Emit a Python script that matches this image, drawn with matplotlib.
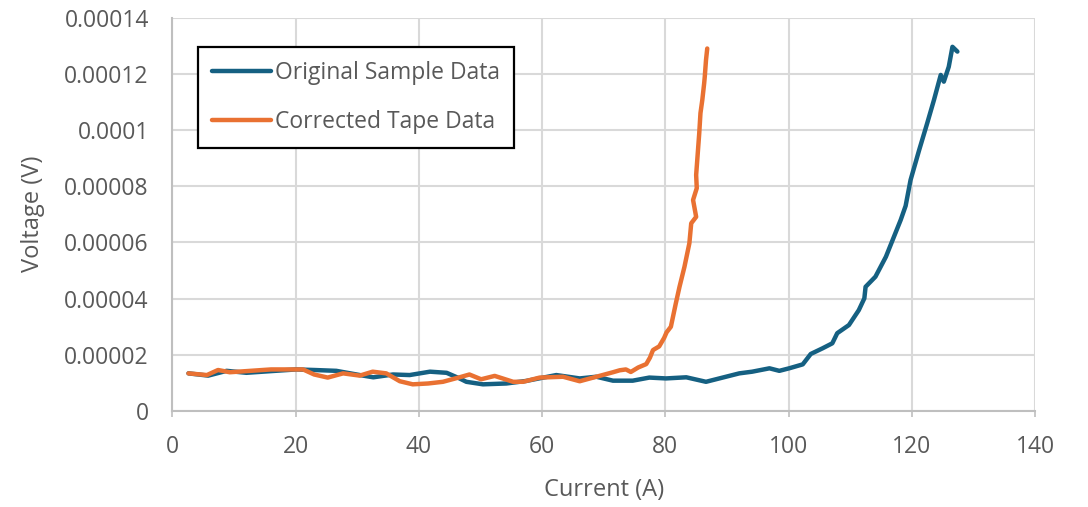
import matplotlib
matplotlib.use("Agg")
import matplotlib.pyplot as plt

plt.rcParams["font.family"] = ["Open Sans", "DejaVu Sans"]

# Original sample: current (A) vs voltage (V)
orig_current = [2.6, 5.8, 8.8, 12, 16, 20.1, 23, 26.6, 30.4, 32.6, 35.8, 38.5, 41.8,
                44.5, 46.6, 47.7, 50.4, 54.2, 57.4, 62.3, 66.1, 68.8, 71.5, 74.7, 77.4,
                80.1, 83.4, 86.6, 92, 94.1, 96.9, 98.5, 100.1, 102.3, 103.6, 105.5,
                107.1, 107.9, 109.8, 111.4, 112.3, 112.5, 114.1, 115.8, 117.1, 118.2,
                119, 119.8, 121.2, 122.5, 123.6, 124.7, 125.2, 126, 126.6, 127.4]
orig_voltage = [1.34e-5, 1.26e-5, 1.43e-5, 1.36e-5, 1.42e-5, 1.48e-5, 1.46e-5, 1.43e-5,
                1.28e-5, 1.20e-5, 1.30e-5, 1.28e-5, 1.40e-5, 1.36e-5, 1.16e-5, 1.04e-5,
                0.95e-5, 0.98e-5, 1.07e-5, 1.28e-5, 1.16e-5, 1.22e-5, 1.08e-5, 1.08e-5,
                1.19e-5, 1.16e-5, 1.20e-5, 1.04e-5, 1.34e-5, 1.40e-5, 1.52e-5, 1.43e-5,
                1.52e-5, 1.66e-5, 2.03e-5, 2.23e-5, 2.41e-5, 2.77e-5, 3.06e-5, 3.59e-5,
                4.01e-5, 4.42e-5, 4.78e-5, 5.49e-5, 6.20e-5, 6.80e-5, 7.30e-5, 8.22e-5,
                9.29e-5, 10.24e-5, 11.07e-5, 11.96e-5, 11.72e-5, 12.25e-5, 12.96e-5,
                12.79e-5]

# Corrected tape: current (A) vs voltage (V)
tape_current = [2.6, 5.6, 7.4, 9.3, 12, 16, 20.1, 21.2, 23, 25.2, 27.7, 30.4, 32.5,
                34.7, 36.9, 39, 41.5, 43.9, 46.6, 48.2, 50.1, 52.3, 55.3, 56.9, 59.6,
                63.4, 66.1, 68.8, 71.5, 72.6, 73.6, 74.4, 75.6, 76.9, 77.5, 78.0, 79.0,
                79.8, 80.2, 80.9, 81.7, 82.3, 83.1, 83.9, 84.2, 85.0, 84.5, 85.1, 85.0,
                85.5, 85.7, 86.0, 86.3, 86.4, 86.6, 86.8]
tape_voltage = [1.34e-5, 1.28e-5, 1.46e-5, 1.38e-5, 1.42e-5, 1.48e-5, 1.48e-5, 1.48e-5,
                1.30e-5, 1.19e-5, 1.34e-5, 1.26e-5, 1.40e-5, 1.34e-5, 1.06e-5, 0.95e-5,
                0.98e-5, 1.04e-5, 1.20e-5, 1.30e-5, 1.13e-5, 1.25e-5, 1.04e-5, 1.04e-5,
                1.19e-5, 1.22e-5, 1.06e-5, 1.22e-5, 1.38e-5, 1.45e-5, 1.48e-5, 1.39e-5,
                1.55e-5, 1.67e-5, 1.90e-5, 2.17e-5, 2.30e-5, 2.60e-5, 2.80e-5, 3.00e-5,
                3.83e-5, 4.42e-5, 5.13e-5, 5.97e-5, 6.68e-5, 6.91e-5, 7.51e-5, 7.93e-5,
                8.40e-5, 9.88e-5, 10.60e-5, 11.07e-5, 11.66e-5, 11.90e-5, 12.49e-5,
                12.90e-5]

x_ticks = [0, 20, 40, 60, 80, 100, 120, 140]
y_ticks = [0, 0.00002, 0.00004, 0.00006, 0.00008, 0.0001, 0.00012, 0.00014]
y_tick_labels = ["0", "0.00002", "0.00004", "0.00006", "0.00008", "0.0001",
                 "0.00012", "0.00014"]

text_color = "#595959"
grid_color = "#D9D9D9"
blue = "#156082"
orange = "#E97132"

fig = plt.figure(figsize=(10.88, 5.07), dpi=100)
ax = fig.add_axes([0.1585, 0.1893, 0.7928, 0.7760])

ax.plot(orig_current, orig_voltage, color=blue, lw=3.2, solid_capstyle="round",
        solid_joinstyle="round", label="Original Sample Data", zorder=3)
ax.plot(tape_current, tape_voltage, color=orange, lw=3.2, solid_capstyle="round",
        solid_joinstyle="round", label="Corrected Tape Data", zorder=4)

ax.set_xlim(0, 140)
ax.set_ylim(0, 0.00014)
ax.set_xticks(x_ticks)
ax.set_xticklabels([str(t) for t in x_ticks])
ax.set_yticks(y_ticks)
ax.set_yticklabels(y_tick_labels)

ax.grid(True, color=grid_color, lw=1.5, zorder=0)
ax.set_axisbelow(True)
for side in ("top", "right"):
    ax.spines[side].set_visible(False)
for side in ("left", "bottom"):
    ax.spines[side].set_color("#BFBFBF")
    ax.spines[side].set_linewidth(1.5)

ax.tick_params(axis="x", length=4, width=1.2, color="#BFBFBF", pad=13,
               labelsize=16.5, labelcolor=text_color)
ax.tick_params(axis="y", length=0, pad=17, labelsize=16.5, labelcolor=text_color)

ax.set_xlabel("Current (A)", fontsize=17, color=text_color, labelpad=14)
ax.set_ylabel("Voltage (V)", fontsize=17, color=text_color, labelpad=14)

leg = ax.legend(loc="upper left", bbox_to_anchor=(0.030, 0.9245), borderaxespad=0,
                fontsize=16.5, frameon=True, fancybox=False, handlelength=2.55,
                handletextpad=0.2, labelspacing=1.1, borderpad=0.6)
frame = leg.get_frame()
frame.set_edgecolor("black")
frame.set_linewidth(1.6)
frame.set_facecolor("white")
frame.set_alpha(1)
for t in leg.get_texts():
    t.set_color(text_color)

fig.savefig("out.png", dpi=100, facecolor="white")
